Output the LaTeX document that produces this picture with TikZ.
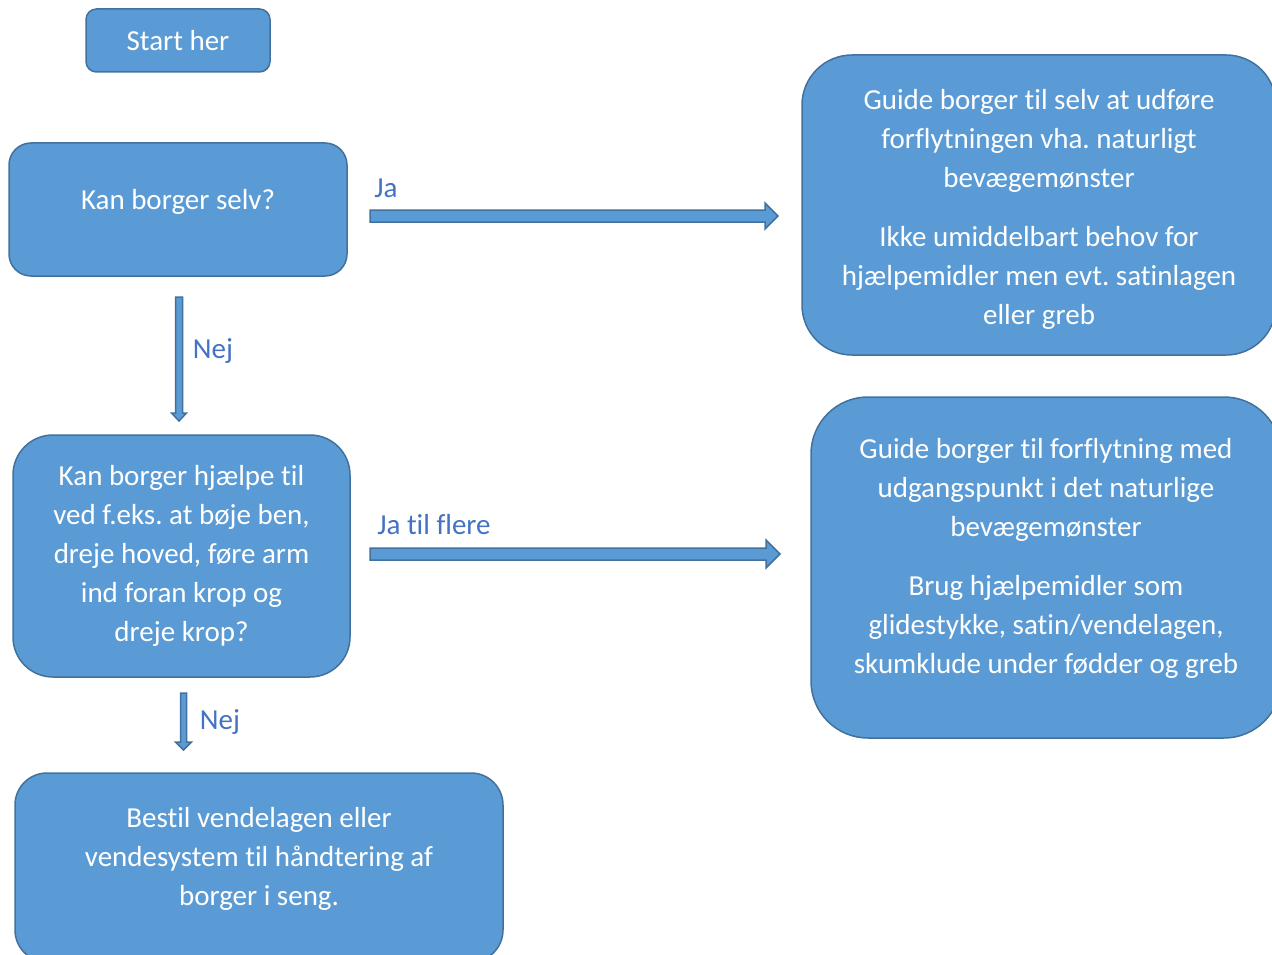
\documentclass[tikz,border=0pt]{standalone}
\usepackage{fontspec}
\setmainfont{Carlito}[Ligatures=NoCommon]
\usepackage{tikz}
\usetikzlibrary{calc}
\frenchspacing
\definecolor{boksblaa}{HTML}{5B9BD5}
\definecolor{kantblaa}{HTML}{41719C}
\definecolor{tekstblaa}{HTML}{4472C4}
\tikzset{
    %Define style for boxes
    boks/.style={
           rectangle,
           draw=kantblaa, line width=1.5pt,
           fill=boksblaa,
           text=white,
           font=\fontsize{29}{39}\selectfont,
           align=center},
    %Define style for box text set apart from the centre
    bokstekst/.style={
           text=white,
           font=\fontsize{29}{39}\selectfont,
           align=center},
    %Define style for arrow labels
    etiket/.style={
           text=tekstblaa,
           font=\fontsize{29}{39}\selectfont},
    % Define arrow style
    pil/.style={
           draw=kantblaa, line width=1.5pt,
           fill=boksblaa,
           line join=miter}
}
% block arrow: from, to, half shaft, half head, head length
\newcommand{\blokpil}[5]{%
  \coordinate (hals) at ($(#2)!#5!(#1)$);
  \draw[pil] ($(#1)!#3!90:(#2)$) -- ($(hals)!#3!90:(#2)$)
    -- ($(hals)!#4!90:(#2)$) -- (#2)
    -- ($(hals)!#4!-90:(#2)$) -- ($(hals)!#3!-90:(#2)$)
    -- ($(#1)!#3!-90:(#2)$) -- cycle;}

\begin{document}
\begin{tikzpicture}[x=1pt,y=-1pt]
\useasboundingbox (0,0) rectangle (1272,955);
 %nodes
\node[boks, minimum width=184pt, minimum height=63pt, rounded corners=10.5pt] (start) at (178,40.5) {Start her};
\node[boks, minimum width=338pt, minimum height=133pt, rounded corners=22pt,
      label={[bokstekst, yshift=8pt]center:Kan borger selv?}] (selv) at (178,209.5) {};
\node[boks, minimum width=474pt, minimum height=300pt, rounded corners=50pt,
      label={[bokstekst, yshift=-4pt]center:{Guide borger til selv at udføre\\forflytningen vha. naturligt\\bevægemønster\\[20pt]
      Ikke umiddelbart behov for\\hjælpemidler men evt. satinlagen\\eller greb}}] (guide) at (1039,205) {};
\node[boks, minimum width=337pt, minimum height=242pt, rounded corners=40pt] (hjaelp) at (181.5,556)
    {Kan borger hjælpe til\\ved f.eks. at bøje ben,\\dreje hoved, føre arm\\ind foran krop og\\dreje krop?};
\node[boks, minimum width=470pt, minimum height=341pt, rounded corners=57pt,
      label={[bokstekst, yshift=9pt]center:{Guide borger til forflytning med\\udgangspunkt i det naturlige\\bevægemønster\\[20pt]
      Brug hjælpemidler som\\glidestykke, satin/vendelagen,\\skumklude under fødder og greb}}] (guidemed) at (1046,567.5) {};
\node[boks, minimum width=488pt, minimum height=189pt, rounded corners=32pt,
      label={[bokstekst, yshift=9pt]center:{Bestil vendelagen eller\\vendesystem til håndtering af\\borger i seng.}}] (bestil) at (259,867.5) {};
 %arrows
\coordinate (ja-a) at (370,216);
\coordinate (ja-b) at (778,216);
\coordinate (nej1-a) at (179,297);
\coordinate (nej1-b) at (179,421);
\coordinate (flere-a) at (370,554);
\coordinate (flere-b) at (780,554);
\coordinate (nej2-a) at (183.5,693);
\coordinate (nej2-b) at (183.5,750);
\blokpil{ja-a}{ja-b}{6pt}{13pt}{13pt}
\blokpil{nej1-a}{nej1-b}{3.5pt}{7.5pt}{8pt}
\blokpil{flere-a}{flere-b}{6pt}{14pt}{14pt}
\blokpil{nej2-a}{nej2-b}{3pt}{8pt}{8pt}
 %labels
\node[etiket] (ja) at (386,188) {Ja};
\node[etiket] (nej1) at (213,351) {Nej};
\node[etiket] (jaflere) at (434,525) {Ja til flere};
\node[etiket] (nej2) at (220,722) {Nej};
\end{tikzpicture}
\end{document}
